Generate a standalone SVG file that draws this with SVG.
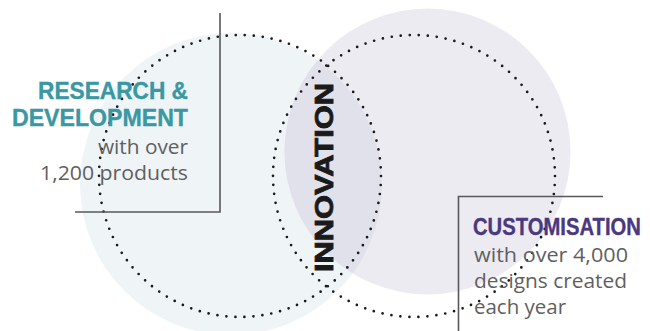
<svg xmlns="http://www.w3.org/2000/svg" width="650" height="331" viewBox="0 0 650 331">
  <defs>
    <clipPath id="clipBlue"><circle cx="231" cy="184" r="151"/></clipPath>
    <style>
      .dots{fill:none;stroke:#1a1a1a;stroke-width:2.7;stroke-linecap:round;stroke-dasharray:0 9.04}
      .rule{stroke:#58585a;stroke-width:1.6;fill:none}
      .head{font-family:"Liberation Sans",Arial,sans-serif;font-weight:bold;font-size:23px;stroke-width:0.35}
      .body{font-family:"Open Sans","Liberation Sans",sans-serif;font-size:20px;fill:#5f5f61}
    </style>
  </defs>
  <rect width="650" height="331" fill="#ffffff"/>
  <g id="background-circles">
    <circle cx="231" cy="184" r="151" fill="#eff4f7"/>
    <circle cx="427.5" cy="151.5" r="143" fill="#ecebf2"/>
    <circle cx="427.5" cy="151.5" r="143" fill="#e0e1eb" clip-path="url(#clipBlue)"/>
  </g>
  <g id="connectors">
    <circle class="dots" cx="240" cy="176" r="141"/>
    <circle class="dots" cx="414" cy="176" r="141"/>
    <polyline class="rule" points="220,13 220,212 75,212"/>
    <polyline class="rule" points="603,196.5 458.5,196.5 458.5,331"/>
  </g>
  <g id="research">
    <text class="head" fill="#3a97a4" stroke="#3a97a4" x="188" y="99" text-anchor="end" textLength="150" lengthAdjust="spacingAndGlyphs">RESEARCH &amp;</text>
    <text class="head" fill="#3a97a4" stroke="#3a97a4" x="188" y="126" text-anchor="end" textLength="176" lengthAdjust="spacingAndGlyphs">DEVELOPMENT</text>
    <text class="body" x="188" y="154" text-anchor="end" textLength="90" lengthAdjust="spacingAndGlyphs">with over</text>
    <text class="body" x="188" y="180" text-anchor="end" textLength="148" lengthAdjust="spacingAndGlyphs">1,200 products</text>
  </g>
  <g id="innovation">
    <text transform="translate(333,177.5) rotate(-90)" text-anchor="middle" font-family="Liberation Sans,Arial,sans-serif" font-weight="bold" font-size="25" fill="#1a1a1a" stroke="#1a1a1a" stroke-width="0.8" textLength="189" lengthAdjust="spacingAndGlyphs">INNOVATION</text>
  </g>
  <g id="customisation">
    <text class="head" fill="#4a3880" stroke="#4a3880" transform="translate(473,235) scale(0.88,1)" x="0" y="0">CUSTOMISATION</text>
    <text class="body" x="474" y="262" textLength="154" lengthAdjust="spacingAndGlyphs">with over 4,000</text>
    <text class="body" x="474" y="288" textLength="153" lengthAdjust="spacingAndGlyphs">designs created</text>
    <text class="body" x="474" y="314" textLength="92" lengthAdjust="spacingAndGlyphs">each year</text>
  </g>
</svg>
